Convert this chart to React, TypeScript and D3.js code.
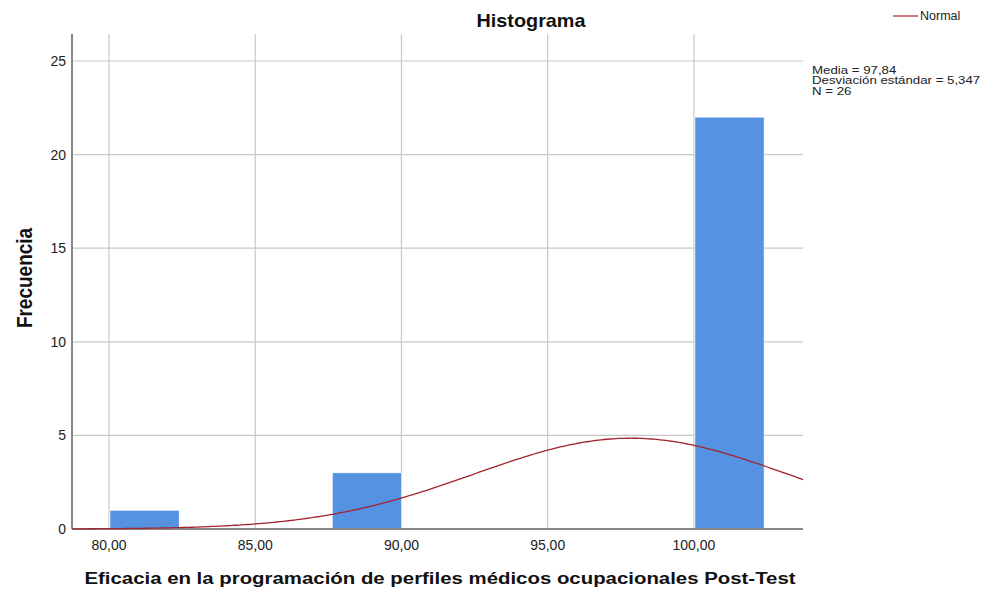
import React from 'react';
import { scaleLinear, line, range } from 'd3';

const width = 992;
const height = 592;
const plotLeft = 72;
const plotRight = 803;
const plotTop = 34;
const plotBottom = 529;

// histogram bins
const binStarts = [80.0, 87.6, 100.0];
const binEnds = [82.4, 90.0, 102.4];
const counts = [1, 3, 22];

const xTicks = [80, 85, 90, 95, 100];
const yTicks = [0, 5, 10, 15, 20, 25];

const mean = 97.84;
const sd = 5.347;
const n = 26;
const binWidth = 2.5;

const statLines = ['Media = 97,84', 'Desviación estándar = 5,347', 'N = 26'];

const fmt = (v: number) => v.toFixed(2).replace('.', ',');

const App = () => {
    const x = scaleLinear().domain([78.735, 103.73]).range([plotLeft, plotRight]);
    const y = scaleLinear().domain([0, 25]).range([plotBottom, 61]);

    const normal = (v: number) =>
        (n * binWidth) / (sd * Math.sqrt(2 * Math.PI)) * Math.exp(-0.5 * ((v - mean) / sd) ** 2);
    const curvePts = range(78.735, 103.74, 0.1).map(v => [x(v), y(normal(v))] as [number, number]);
    const curve = line()(curvePts);

    const font = '"Liberation Sans", Arial, sans-serif';

    return (
        <svg width={width} height={height} style={{ position: 'absolute', left: 0, top: 0, fontFamily: font }}>
            <rect width={width} height={height} fill="#fff" />
            <text transform="translate(531, 27) scale(1.1, 1)" textAnchor="middle" fontSize={18} fontWeight="bold" fill="#111">Histograma</text>

            {/* grid */}
            {xTicks.map(t => (
                <line key={'gx' + t} x1={x(t)} x2={x(t)} y1={plotTop} y2={plotBottom} stroke="#c8c8c8" strokeWidth={1.2} />
            ))}
            {yTicks.filter(t => t > 0).map(t => (
                <line key={'gy' + t} x1={plotLeft} x2={plotRight} y1={y(t)} y2={y(t)} stroke="#c8c8c8" strokeWidth={1.2} />
            ))}

            {/* bars */}
            {counts.map((c, i) => (
                <rect key={'b' + i}
                    x={x(binStarts[i]) + 1}
                    y={y(c)}
                    width={x(binEnds[i]) - x(binStarts[i]) - 1}
                    height={plotBottom - y(c)}
                    fill="#5593e2"
                    stroke="#ffffff"
                    strokeWidth={0.6}
                />
            ))}

            {/* axes */}
            <line x1={plotLeft} x2={plotLeft} y1={plotTop} y2={plotBottom} stroke="#888" strokeWidth={2} />
            <line x1={plotLeft} x2={plotRight} y1={plotBottom} y2={plotBottom} stroke="#888" strokeWidth={2} />

            <path d={curve} fill="none" stroke="#a3232e" strokeWidth={1.3} />

            {yTicks.map(t => (
                <text key={'ty' + t} x={plotLeft - 6} y={y(t) + 5} textAnchor="end" fontSize={14} fill="#222">{t}</text>
            ))}
            {xTicks.map(t => (
                <text key={'tx' + t} x={x(t)} y={550} textAnchor="middle" fontSize={14} fill="#222">{fmt(t)}</text>
            ))}

            <text transform="translate(32, 278) rotate(-90) scale(1, 1.2)" textAnchor="middle" fontSize={19} fontWeight="bold" fill="#111">Frecuencia</text>
            <text transform="translate(440, 584) scale(1.2, 1)" textAnchor="middle" fontSize={17} fontWeight="bold" fill="#111">
                Eficacia en la programación de perfiles médicos ocupacionales Post-Test
            </text>

            {/* legend */}
            <line x1={893} x2={918} y1={16} y2={16} stroke="#a3232e" strokeWidth={1.2} />
            <text x={920} y={20} fontSize={12.5} fill="#222">Normal</text>

            {statLines.map((s, i) => (
                <text key={'s' + i} transform={`translate(812, ${73.5 + i * 10.5}) scale(1.3, 1)`} fontSize={10.2} fill="#222">{s}</text>
            ))}
        </svg>
    );
};

export default App;
